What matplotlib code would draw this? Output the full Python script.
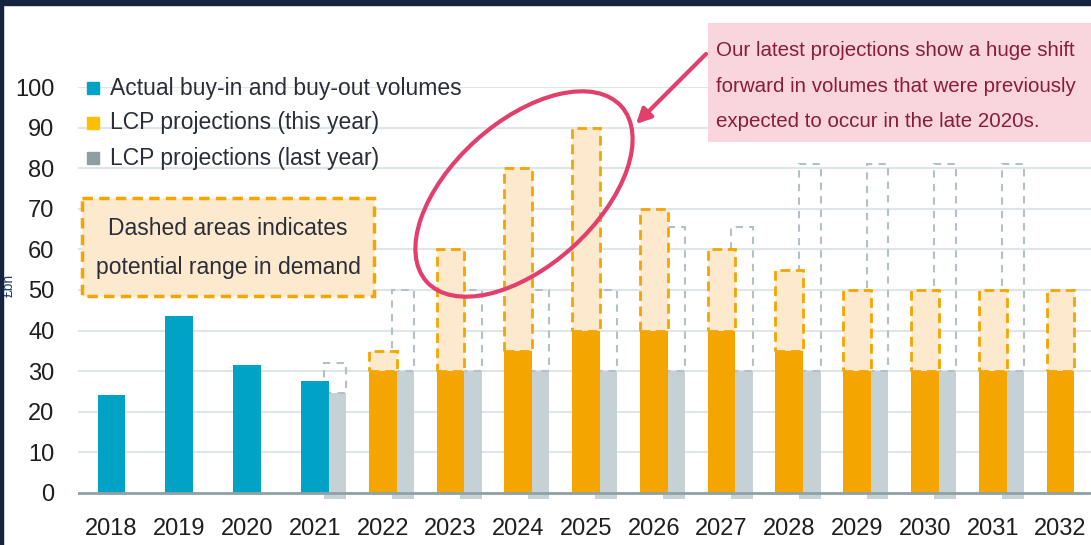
import numpy as np
import matplotlib
matplotlib.use("Agg")
import matplotlib.pyplot as plt
from matplotlib.patches import Rectangle, Ellipse, FancyArrowPatch
from matplotlib.transforms import Affine2D

years = ['2018', '2019', '2020', '2021', '2022', '2023', '2024', '2025',
         '2026', '2027', '2028', '2029', '2030', '2031', '2032']
nan = np.nan
actual = [24, 43.5, 31.5, 27.5] + [nan] * 11
this_low = [nan] * 4 + [30, 30, 35, 40, 40, 40, 35, 30, 30, 30, 30]
this_high = [nan] * 4 + [35, 60, 80, 90, 70, 60, 55, 50, 50, 50, 50]
last_low = [nan] * 3 + [24.5, 30, 30, 30, 30, 30, 30, 30, 30, 30, 30, nan]
last_high = [nan] * 3 + [32, 50, 50, 50, 50, 65.5, 65.5, 81, 81, 81, 81, nan]
yticks = list(range(0, 101, 10))
legend_labels = ['Actual buy-in and buy-out volumes',
                 'LCP projections (this year)',
                 'LCP projections (last year)']

plt.rcParams['font.family'] = ['Liberation Sans', 'DejaVu Sans']

BLUE = '#00a3c6'
ORANGE = '#f5a500'
PEACH = '#fde9cd'
GREY = '#c6d1d5'
GREY_EDGE = '#b3c0c5'
TXT = '#2a2e38'
FS = 16.5

W, H = 1091, 545
fig = plt.figure(figsize=(W / 100, H / 100), dpi=100)
# pixel coords, origin top-left
pxt = Affine2D().scale(1 / W, -1 / H).translate(0, 1) + fig.transFigure

ax = fig.add_axes([78 / W, 1 - 499 / H, 1 - 78 / W, (499 - 87) / H])
x = np.arange(len(years))
bw, gw, goff = 0.41, 0.32, 0.30

lo_l = np.array(last_low, float)
hi_l = np.array(last_high, float)
ax.bar(x + goff, lo_l + 1.5, bottom=-1.5, width=gw, color=GREY, zorder=2)
ax.bar(x + goff, hi_l - lo_l, bottom=lo_l, width=gw, fill=False,
       edgecolor=GREY_EDGE, linewidth=1.5, linestyle=(0, (3.5, 3)), zorder=2)

lo_t = np.array(this_low, float)
hi_t = np.array(this_high, float)
ax.bar(x, hi_t - lo_t, bottom=lo_t, width=bw, color=PEACH, edgecolor=ORANGE,
       linewidth=2, linestyle=(0, (3.5, 2)), zorder=3)
ax.bar(x, lo_t, width=bw, color=ORANGE, zorder=4)
ax.bar(x, actual, width=bw, color=BLUE, zorder=4)

ax.set_xlim(-0.494, 14.45)
ax.set_ylim(-1.5, 100)
ax.set_yticks(yticks)
ax.set_xticks(x)
ax.set_xticklabels(years)
ax.tick_params(length=0, labelsize=17, colors='#1e1e1e')
ax.tick_params(axis='y', pad=17)
ax.tick_params(axis='x', pad=14)
for s in ax.spines.values():
    s.set_visible(False)
ax.grid(axis='y', color='#dfe6e9', linewidth=1.5, zorder=0)
ax.set_axisbelow(True)
ax.axhline(0, color='#8ea2a6', linewidth=2, zorder=5)

# legend
leg_colors = [BLUE, '#fdbf00', '#8e9fa4']
for i, (lab, c) in enumerate(zip(legend_labels, leg_colors)):
    yy = 88 + i * 35
    fig.add_artist(Rectangle((87, yy - 6), 12, 12, transform=pxt, color=c))
    fig.text(110, yy, lab, transform=pxt, fontsize=FS, color=TXT, va='center')

# dashed note box
fig.add_artist(Rectangle((82, 198), 292, 98, transform=pxt, facecolor=PEACH,
                         edgecolor=ORANGE, linewidth=2.5, linestyle=(0, (3, 1.8)), zorder=6))
fig.text(228, 248, 'Dashed areas indicates\npotential range in demand', transform=pxt,
         fontsize=FS, color=TXT, ha='center', va='center', linespacing=1.85, zorder=7)

# callout
fig.add_artist(Rectangle((708, 23), 390, 119, transform=pxt, facecolor='#f9d6de',
                         edgecolor='none', zorder=6))
fig.text(716, 86, 'Our latest projections show a huge shift\nforward in volumes that were previously\n'
         'expected to occur in the late 2020s.', transform=pxt, fontsize=14.8,
         color='#8a1b3b', ha='left', va='center', linespacing=2.07, zorder=7)

fig.add_artist(Ellipse((524, 194), 262, 144, angle=-42, transform=pxt, fill=False,
                       edgecolor='#e33f6c', linewidth=3, zorder=7))
fig.add_artist(FancyArrowPatch((708, 52), (634, 126), transform=pxt, arrowstyle='-|>',
                               mutation_scale=22, color='#e33f6c', linewidth=3, zorder=7))

# y label (cropped in the original) and frame
fig.text(9, 285, '£bn', transform=pxt, rotation=90, fontsize=10, color='#1f3d6e',
         ha='center', va='center')
fig.add_artist(Rectangle((0, 0), W, 5, transform=pxt, color='#14243f', zorder=10))
fig.add_artist(Rectangle((0, 0), 3, H, transform=pxt, color='#14243f', zorder=10))

fig.savefig('out.png', dpi=100)
